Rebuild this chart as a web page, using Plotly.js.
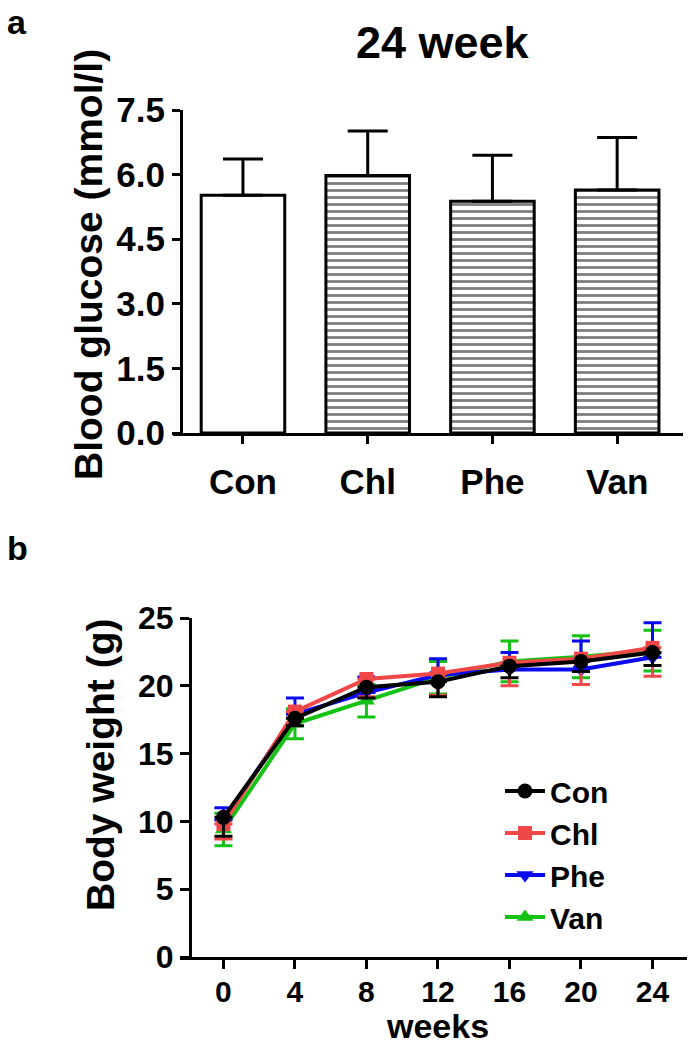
<!DOCTYPE html>
<html>
<head>
<meta charset="utf-8">
<script src="https://cdn.plot.ly/plotly-3.0.1.min.js"></script>
<style>
  html, body { margin: 0; padding: 0; background: #fff; }
  #plot { width: 689px; height: 1048px; }
</style>
</head>
<body>
<div id="plot"></div>
<script>
/* panel a: blood glucose at 24 weeks */
var groups = ["Con", "Chl", "Phe", "Van"];
var glucoseMean = [5.52, 5.98, 5.38, 5.64];
var glucoseSD = [0.84, 1.03, 1.07, 1.22];
var glucoseTicks = [0, 1.5, 3.0, 4.5, 6.0, 7.5];
var glucoseTickText = ["0.0", "1.5", "3.0", "4.5", "6.0", "7.5"];

/* panel b: body weight over time (Con/Chl show SD below, Phe above, Van both) */
var weeks = [0, 4, 8, 12, 16, 20, 24];
var conWeight = [10.3, 17.6, 19.9, 20.3, 21.45, 21.8, 22.45];
var conSD     = [1.4, 0.55, 0.8, 1.1, 0.85, 0.75, 0.95];
var chlWeight = [9.8, 18.1, 20.5, 20.9, 21.7, 22.0, 22.8];
var chlSD     = [1.1, 0.5, 1.3, 1.6, 1.7, 1.9, 2.1];
var pheWeight = [10.1, 17.9, 19.5, 20.8, 21.2, 21.2, 22.1];
var pheSD     = [0.9, 1.2, 1.15, 1.2, 1.25, 2.1, 2.55];
var vanWeight = [9.4, 17.2, 18.9, 20.6, 21.8, 22.15, 22.6];
var vanSD     = [1.2, 1.1, 1.2, 1.2, 1.5, 1.55, 1.5];
var noSD      = [0, 0, 0, 0, 0, 0, 0];

var FONT = "Liberation Sans, Arial, sans-serif";
var W = 689, H = 1048;
function px(x) { return x / W; }
function py(y) { return 1 - y / H; }

var barTrace = {
  x: groups,
  y: glucoseMean,
  type: "bar",
  width: 0.67,
  showlegend: false,
  xaxis: "x",
  yaxis: "y",
  marker: {
    color: "white",
    line: { color: "black", width: 3 },
    pattern: {
      shape: ["", "-", "-", "-"],
      size: 7,
      solidity: 0.4,
      fgcolor: "black",
      bgcolor: "white",
      fillmode: "overlay"
    }
  },
  error_y: {
    type: "data",
    symmetric: false,
    array: glucoseSD,
    arrayminus: [0, 0, 0, 0],
    color: "black",
    thickness: 3,
    width: 20
  }
};

function weightTrace(name, y, up, down, color, symbol, size, rank) {
  return {
    x: weeks,
    y: y,
    name: name,
    type: "scatter",
    mode: "lines+markers",
    xaxis: "x2",
    yaxis: "y2",
    legendrank: rank,
    line: { color: color, width: 4 },
    marker: { color: color, symbol: symbol, size: size },
    error_y: { type: "data", symmetric: false, array: up, arrayminus: down,
               color: color, thickness: 3, width: 9 }
  };
}

/* drawn back to front: green, blue, red, black */
var data = [
  barTrace,
  weightTrace("Van", vanWeight, vanSD, vanSD, "#14c214", "triangle-up", 15, 4),
  weightTrace("Phe", pheWeight, pheSD, noSD, "#0a0af0", "triangle-down", 15, 3),
  weightTrace("Chl", chlWeight, noSD, chlSD, "#f04848", "square", 14, 2),
  weightTrace("Con", conWeight, noSD, conSD, "black", "circle", 15, 1)
];

var axisCommon = {
  showline: true,
  linecolor: "black",
  linewidth: 3,
  ticks: "outside",
  tickcolor: "black",
  tickwidth: 3,
  showgrid: false,
  zeroline: false,
  fixedrange: true,
  tickfont: { family: FONT, size: 32, color: "black", weight: "bold" }
};

var layout = {
  width: W,
  height: H,
  margin: { l: 0, r: 0, t: 0, b: 0 },
  paper_bgcolor: "white",
  plot_bgcolor: "white",
  font: { family: FONT, color: "black" },
  xaxis: Object.assign({}, axisCommon, {
    domain: [px(173), px(683)],
    range: [-0.561, 3.528],
    anchor: "y",
    ticklen: 8,
    ticklabelstandoff: 8,
    tickfont: { family: FONT, size: 35, color: "black", weight: "bold" }
  }),
  yaxis: Object.assign({}, axisCommon, {
    domain: [py(433), py(110)],
    range: [0, 7.5],
    anchor: "free",
    position: px(181),
    tickvals: glucoseTicks,
    ticktext: glucoseTickText,
    ticklen: 8,
    tickfont: { family: FONT, size: 35, color: "black", weight: "bold" }
  }),
  xaxis2: Object.assign({}, axisCommon, {
    domain: [px(180), px(687)],
    range: [-2.43, 25.93],
    anchor: "y2",
    tickvals: weeks,
    ticklen: 9,
    ticklabelstandoff: -3,
    tickfont: { family: FONT, size: 30, color: "black", weight: "bold" }
  }),
  yaxis2: Object.assign({}, axisCommon, {
    domain: [py(957), py(618)],
    range: [0, 25],
    anchor: "free",
    position: px(190),
    dtick: 5,
    ticklen: 9
  }),
  legend: {
    x: px(500),
    xanchor: "left",
    y: py(765),
    yanchor: "top",
    itemwidth: 40,
    bgcolor: "rgba(0,0,0,0)",
    font: { family: FONT, size: 30, color: "black", weight: "bold" },
    tracegroupgap: 0
  },
  annotations: [
    { text: "a", xref: "paper", yref: "paper", x: px(5), y: py(22), xanchor: "left", yanchor: "middle",
      showarrow: false, font: { family: FONT, size: 34, weight: "bold" } },
    { text: "b", xref: "paper", yref: "paper", x: px(5), y: py(548), xanchor: "left", yanchor: "middle",
      showarrow: false, font: { family: FONT, size: 34, weight: "bold" } },
    { text: "24 week", xref: "paper", yref: "paper", x: px(443), y: py(43), xanchor: "center", yanchor: "middle",
      showarrow: false, font: { family: FONT, size: 45, weight: "bold" } },
    { text: "Blood glucose (mmol/l)", xref: "paper", yref: "paper", x: px(88), y: py(265), xanchor: "center", yanchor: "middle",
      textangle: -90, showarrow: false, font: { family: FONT, size: 39, weight: "bold" } },
    { text: "Body weight (g)", xref: "paper", yref: "paper", x: px(100), y: py(765), xanchor: "center", yanchor: "middle",
      textangle: -90, showarrow: false, font: { family: FONT, size: 39, weight: "bold" } },
    { text: "weeks", xref: "paper", yref: "paper", x: px(437), y: py(1047), xanchor: "center", yanchor: "bottom",
      showarrow: false, font: { family: FONT, size: 34, weight: "bold" } }
  ]
};

Plotly.newPlot("plot", data, layout, { displayModeBar: false });
</script>
</body>
</html>
